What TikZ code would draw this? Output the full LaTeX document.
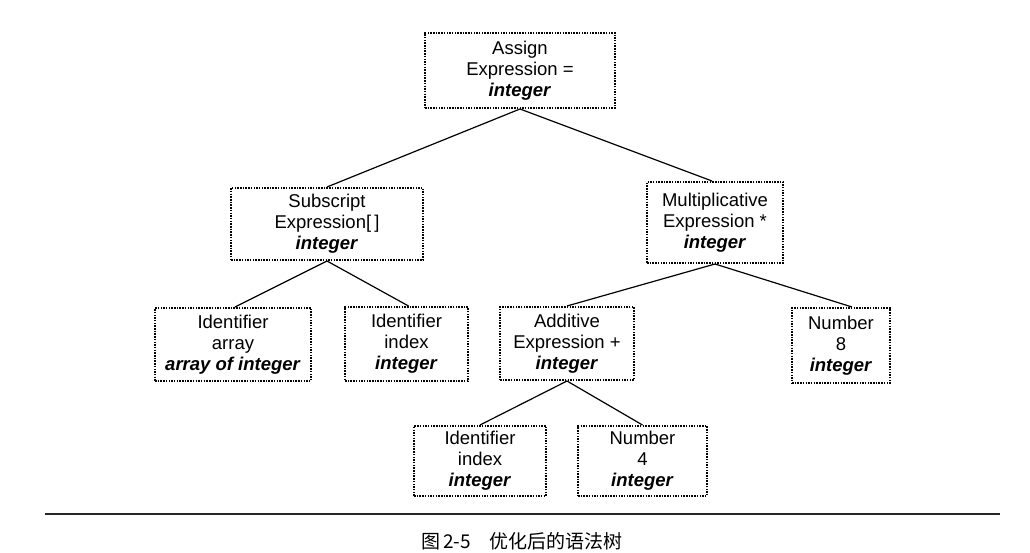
\documentclass[tikz,border=0pt]{standalone}
\usepackage{fontspec}
\setmainfont{Liberation Sans}
\newfontfamily\cjk{Noto Sans CJK SC}
\begin{document}
\begin{tikzpicture}[x=1pt,y=-1pt,
  tnode/.style={draw, line width=2pt, dash pattern=on 1.5pt off 1.2pt, align=center, inner sep=0pt,
    font=\fontsize{18.5}{21}\selectfont, text=black},
  edge/.style={line width=1.2pt}]
\useasboundingbox (0,0) rectangle (1030,553);
\newcommand{\ty}[1]{\textbf{\textit{#1}}}
\node[tnode, minimum width=190, minimum height=75] (assign) at (520,70.5) {Assign\\Expression =\\\ty{integer}};
\node[tnode, minimum width=192, minimum height=72] (sub) at (327,224) {Subscript\\Expression[\,]\\\ty{integer}};
\node[tnode, minimum width=136, minimum height=81] (mul) at (715,222.5) {Multiplicative\\Expression *\\\ty{integer}};
\node[tnode, minimum width=156, minimum height=73] (arr) at (233,344.5) {Identifier\\array\\\ty{array of integer}};
\node[tnode, minimum width=123, minimum height=74] (idx) at (406.5,344) {Identifier\\index\\\ty{integer}};
\node[tnode, minimum width=134, minimum height=73] (add) at (567,343.5) {Additive\\Expression +\\\ty{integer}};
\node[tnode, minimum width=98, minimum height=75] (n8) at (841,345.5) {Number\\8\\\ty{integer}};
\node[tnode, minimum width=132, minimum height=70] (idx2) at (480,461) {Identifier\\index\\\ty{integer}};
\node[tnode, minimum width=129, minimum height=70] (n4) at (642.5,461) {Number\\4\\\ty{integer}};
\draw[edge] (assign.south) -- (sub.north);
\draw[edge] (assign.south) -- ([xshift=-3]mul.north);
\draw[edge] (sub.south) -- ([xshift=2]arr.north);
\draw[edge] (sub.south) -- ([xshift=2]idx.north);
\draw[edge] (mul.south) -- (add.north);
\draw[edge] (mul.south) -- ([xshift=11]n8.north);
\draw[edge] (add.south) -- (idx2.north);
\draw[edge] (add.south) -- (n4.north);
\coordinate (rl) at (45,514);
\coordinate (rr) at (1000,514);
\draw[line width=1.4pt, black!85] (rl) -- (rr);
\node[font=\cjk\fontsize{19}{22}\selectfont] (cap) at (522,541) {图\,2-5\quad 优化后的语法树};
\end{tikzpicture}
\end{document}
